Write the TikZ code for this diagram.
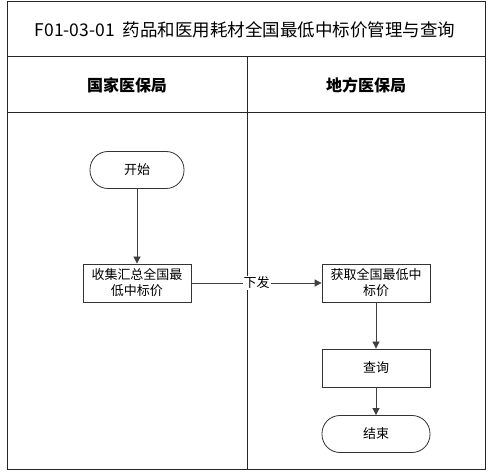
\documentclass[tikz,border=0pt]{standalone}
\usepackage{fontspec}
\setmainfont{Noto Sans CJK SC}
\usetikzlibrary{arrows.meta}
\begin{document}
\begin{tikzpicture}[x=1pt,y=-1pt,
  frame/.style={draw=black!85, line width=1pt},
  procbox/.style={draw=black!80, line width=0.8pt, minimum width=108pt, minimum height=38pt, inner sep=1pt, align=center, font=\fontsize{13}{16}\selectfont},
  termbox/.style={draw=black!80, line width=0.8pt, rounded corners=18pt, minimum height=37pt, inner sep=1pt, align=center, font=\fontsize{13}{16}\selectfont},
  flow/.style={draw=black!75, line width=0.8pt, -{Triangle[length=7pt,width=7pt]}}]
\useasboundingbox (0,0) rectangle (488,473);
% frame
\draw[frame] (7,2) rectangle (485,470);
\draw[frame] (7,57) -- (485,57);
\draw[frame] (7,113) -- (485,113);
\draw[frame] (247,57) -- (247,470);
% titles
\node (title) at (245,30) {\fontsize{17.5}{20}\selectfont F01-03-01\ \ 药品和医用耗材全国最低中标价管理与查询};
\node[font=\bfseries\fontsize{16}{18}\selectfont] (h1) at (127,85) {国家医保局};
\node[font=\bfseries\fontsize{16}{18}\selectfont] (h2) at (366,85) {地方医保局};
% nodes
\node[termbox, minimum width=94pt] (start) at (137,170) {开始};
\node[procbox] (collect) at (137,283) {收集汇总全国最\\低中标价};
\node[procbox] (get) at (376,283) {获取全国最低中\\标价};
\node[procbox] (query) at (376,368) {查询};
\node[termbox, minimum width=108pt] (end) at (376,434) {结束};
% connectors
\draw[flow] (start) -- (collect);
\draw[flow] (collect) -- node[fill=white, inner sep=1pt, font=\fontsize{13}{16}\selectfont, pos=0.5] (lbl) {下发} (get);
\draw[flow] (get) -- (query);
\draw[flow] (query) -- (end);
\end{tikzpicture}
\end{document}
